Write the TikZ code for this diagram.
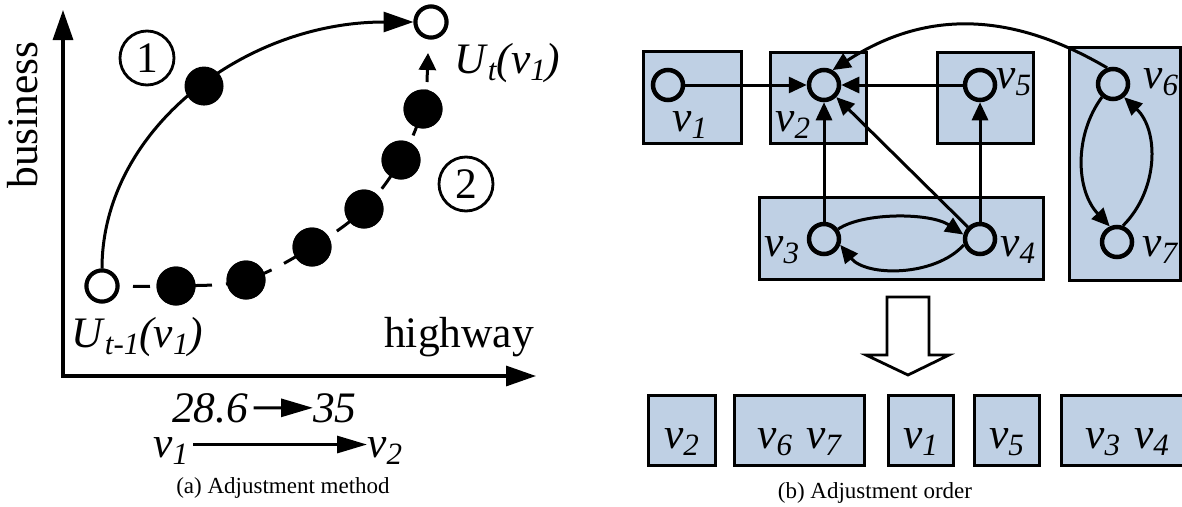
\documentclass[tikz,border=0pt]{standalone}
\usepackage{fontspec}
\setmainfont{Liberation Serif}[ItalicFont={Liberation Serif Italic}]
\usetikzlibrary{arrows.meta}
\definecolor{boxblue}{HTML}{BFD0E4}
\newcommand\sbs[1]{\raisebox{-7pt}{\fontsize{31}{31}\selectfont\itshape #1}}
\newcommand\vlab[1]{\textit{v}\sbs{#1}}
\begin{document}
\begin{tikzpicture}[x=1pt,y=-1pt,
  big/.style={font=\fontsize{43.5}{50}\selectfont, inner sep=0pt},
  capt/.style={font=\fontsize{23}{26}\selectfont, inner sep=0pt},
  ocirc/.style={circle, draw, line width=4pt, fill=white, minimum size=31pt, inner sep=0pt},
  fdot/.style={circle, fill=black, minimum size=39pt, inner sep=0pt},
  numc/.style={circle, draw, line width=2.8pt, minimum size=54pt, inner sep=0pt, font=\fontsize{43.5}{50}\selectfont},
  axes/.style={line width=3.2pt, {Triangle[length=30pt,width=20pt]}-{Triangle[length=30pt,width=20pt]}},
  bigarr/.style={line width=3pt, -{Triangle[length=30pt,width=20pt]}},
  smallarr/.style={line width=3pt, -{Triangle[length=17pt,width=17pt]}},
  dashcurve/.style={line width=3pt, dash pattern=on 17pt off 14pt},
  gbox/.style={draw, line width=3pt, fill=boxblue, inner sep=0pt},
  vc/.style={circle, draw, line width=4.5pt, minimum size=30pt, inner sep=0pt},
  gedge/.style={line width=3pt, -{Triangle[length=18pt,width=16pt]}},
  hollow/.style={line width=2.8pt, fill=white, line join=miter}
]
\useasboundingbox (0,0) rectangle (1182,506);

% ---------------- panel (a) ----------------
\coordinate (ytip) at (63,10);
\coordinate (o) at (63,376);
\coordinate (xtip) at (536,376);
\draw[axes] (ytip) -- (o) -- (xtip);

\node[big, rotate=90, anchor=base] (yl) at (37,115) {business};
\node[big, anchor=base west] (xl) at (384,347) {highway};

\node[ocirc] (s) at (102,286) {};
\node[ocirc] (e) at (431,22) {};
\node[fdot] (d1) at (176,286) {};
\node[fdot] (d2) at (246,280) {};
\node[fdot] (d3) at (312,247) {};
\node[fdot] (d4) at (364,209) {};
\node[fdot] (d5) at (401,160) {};
\node[fdot] (d6) at (423,109) {};
\coordinate (a0) at (427,82);
\coordinate (a1) at (428,53);

\draw[dashcurve] plot[smooth, tension=0.6] coordinates {(s) (d1) (d2) (d3) (d4) (d5) (d6) (a0)};
\draw[smallarr] (a0) -- (a1);

\draw[bigarr] (s.north) .. controls +(0,-137) and +(-171,0) .. (e.west)
  node[fdot, pos=0.53] (f0) {};

% circles on top of curves
\node[ocirc] at (s) {};
\node[ocirc] at (e) {};
\foreach \d in {d1,d2,d3,d4,d5,d6} \node[fdot] at (\d) {};

\node[numc] (n1) at (147,58) {1};
\node[numc] (n2) at (466,184) {2};

\node[big, anchor=base west] (Ut) at (454,73) {\textit{U}\sbs{t}\textit{(v}\sbs{1}\textit{)}};
\node[big, anchor=base west] (Ut1) at (71,347) {\textit{U}\sbs{t-1}\textit{(v}\sbs{1}\textit{)}};

\node[big, anchor=base west] (n286) at (172,422) {\textit{28.6}};
\node[big, anchor=base west] (n35) at (313,422) {\textit{35}};
\draw[line width=3pt, -{Triangle[length=32pt,width=18pt]}, shorten <=5pt] (n286) -- (n35);

\node[big, anchor=base west] (w1) at (153,457) {\vlab{1}};
\node[big, anchor=base west] (w2) at (367,457) {\vlab{2}};
\draw[line width=3pt, -{Triangle[length=30pt,width=17pt]}, shorten <=5pt] ([yshift=6pt]w1.east) -- ([yshift=6pt]w2.west);

\node[capt, anchor=base] (capa) at (283,493) {(a) Adjustment method};

% ---------------- panel (b) ----------------
\node[gbox, minimum width=98pt, minimum height=92pt] (B1) at (692,97) {};
\node[gbox, minimum width=96pt, minimum height=91pt] (B2) at (818,97.5) {};
\node[gbox, minimum width=96pt, minimum height=91pt] (B5) at (985,97.5) {};
\node[gbox, minimum width=284pt, minimum height=82pt] (B34) at (901,238) {};
\node[gbox, minimum width=111pt, minimum height=233pt] (B67) at (1124.5,163.5) {};

\node[vc] (v1) at (668,85) {};
\node[vc] (v2) at (824,85) {};
\node[vc] (v5) at (980,85) {};
\node[vc] (v3) at (824,239) {};
\node[vc] (v4) at (980,239) {};
\node[vc] (v6) at (1113,84) {};
\node[vc] (v7) at (1117,242) {};

\node[big, anchor=base west] (l1) at (672,131) {\vlab{1}};
\node[big, anchor=base west] (l2) at (775,131) {\vlab{2}};
\node[big, anchor=base west] (l5) at (996,88) {\vlab{5}};
\node[big, anchor=base west] (l3) at (764,256) {\vlab{3}};
\node[big, anchor=base west] (l4) at (1000,256) {\vlab{4}};
\node[big, anchor=base west] (l6) at (1143,88) {\vlab{6}};
\node[big, anchor=base west] (l7) at (1142,256) {\vlab{7}};

\draw[gedge] (v1) -- (v2);
\draw[gedge] (v5) -- (v2);
\draw[gedge] (v3) -- (v2);
\draw[gedge] (v4) -- (v2);
\draw[gedge] (v4) -- (v5);
\draw[gedge] (v3.35) .. controls +(25,-17) and +(-33,-22) .. (v4.165);
\draw[gedge] (v4.200) .. controls +(-29,32) and +(26,32) .. (v3.340);
\draw[gedge] (v6.230) .. controls +(-28,38) and +(-34,-36) .. (v7.115);
\draw[gedge] (v7.70) .. controls +(36,-36) and +(35,33) .. (v6.310);
\draw[gedge] (v6.110) .. controls +(-97,-57) and +(92,-60) .. (v2.60);

% hollow arrow
\draw[hollow] (887,297) -- (929,297) -- (929,355) -- (949,355) -- (908,375) -- (866,355) -- (887,355) -- cycle;

% result order
\node[gbox, minimum width=67pt, minimum height=70pt] (C2) at (681.5,430) {};
\node[gbox, minimum width=130pt, minimum height=70pt] (C67) at (799,430) {};
\node[gbox, minimum width=65pt, minimum height=70pt] (C1) at (920.5,430) {};
\node[gbox, minimum width=65pt, minimum height=70pt] (C5) at (1006.5,430) {};
\node[gbox, minimum width=132pt, minimum height=70pt] (C34) at (1127,430) {};

\node[big, anchor=base] (t2) at (681.5,448) {\vlab{2}};
\node[big, anchor=base] (t67) at (799,448) {\vlab{6}\hspace{14pt}\vlab{7}};
\node[big, anchor=base] (t1) at (920.5,448) {\vlab{1}};
\node[big, anchor=base] (t5) at (1006.5,448) {\vlab{5}};
\node[big, anchor=base] (t34) at (1127,448) {\vlab{3}\hspace{14pt}\vlab{4}};

\node[capt, anchor=base] (capb) at (875,498) {(b) Adjustment order};
\end{tikzpicture}
\end{document}
